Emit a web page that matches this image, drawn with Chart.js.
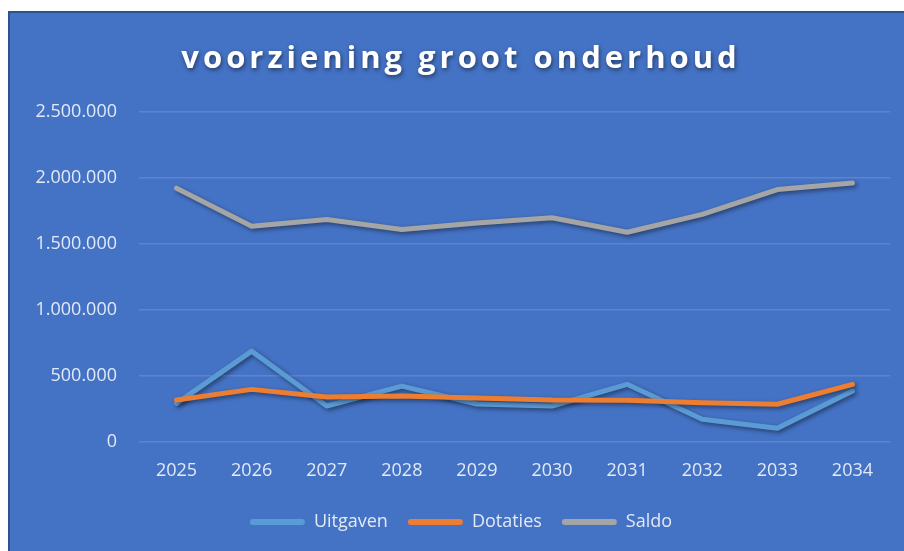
<!DOCTYPE html>
<html>
<head>
<meta charset="utf-8">
<script src="https://cdn.jsdelivr.net/npm/chart.js@4.4.1/dist/chart.umd.min.js"></script>
<style>
    html, body { margin: 0; padding: 0; background: #fff; }
    .kader {
        position: absolute;
        left: 8px;
        top: 11px;
        width: 894px;
        height: 538px;
        background: #4472c4;
        border-left: 2px solid #2f528f;
        border-top: 2px solid #2f528f;
    }
</style>
</head>
<body>
<div class="kader">
    <canvas id="grafiek" width="894" height="538"></canvas>
</div>
<script>
// jaren en bedragen
const jaren = ['2025', '2026', '2027', '2028', '2029', '2030', '2031', '2032', '2033', '2034'];
const uitgaven = [293000, 689000, 273000, 424000, 288000, 273000, 437000, 172000, 104000, 386000];
const dotaties = [318000, 399000, 341000, 348000, 333000, 318000, 316000, 298000, 286000, 437000];
const saldo = [1924000, 1636000, 1687000, 1611000, 1660000, 1700000, 1590000, 1725000, 1914000, 1964000];

const tekstKleur = 'rgba(235, 240, 250, 0.95)';

// bedrag met punten als duizendtal-scheiding
function formatBedrag(v) {
    return String(Math.round(v)).replace(/\B(?=(\d{3})+(?!\d))/g, '.');
}

// schaduw onder de lijnen
const lijnSchaduw = {
    id: 'lijnSchaduw',
    beforeDatasetsDraw(chart) {
        const ctx = chart.ctx;
        ctx.save();
        ctx.shadowColor = 'rgba(0, 0, 0, 0.45)';
        ctx.shadowBlur = 4;
        ctx.shadowOffsetX = 2;
        ctx.shadowOffsetY = 2;
    },
    afterDatasetsDraw(chart) {
        chart.ctx.restore();
    }
};

// titel met letterafstand en schaduw
const titelStijl = {
    id: 'titelStijl',
    afterInit(chart) {
        const t = chart.titleBlock;
        if (!t || t._aangepast) return;
        const orig = t.draw.bind(t);
        t.draw = function() {
            const ctx = chart.ctx;
            ctx.save();
            ctx.letterSpacing = '4px';
            ctx.shadowColor = 'rgba(0, 0, 0, 0.5)';
            ctx.shadowBlur = 4;
            ctx.shadowOffsetX = 1;
            ctx.shadowOffsetY = 2;
            orig();
            ctx.restore();
        };
        t._aangepast = true;
    }
};

function lijn(label, data, kleur, volgorde) {
    return {
        label: label,
        data: data,
        borderColor: kleur,
        backgroundColor: kleur,
        borderWidth: 5,
        borderCapStyle: 'round',
        borderJoinStyle: 'round',
        pointRadius: 0,
        pointHoverRadius: 0,
        tension: 0,
        fill: false,
        order: volgorde
    };
}

new Chart(document.getElementById('grafiek'), {
    type: 'line',
    data: {
        labels: jaren,
        datasets: [
            lijn('Uitgaven', uitgaven, '#5b9bd5', 3),
            lijn('Dotaties', dotaties, '#ed7d31', 2),
            lijn('Saldo', saldo, '#a5a5a5', 1)
        ]
    },
    plugins: [lijnSchaduw, titelStijl],
    options: {
        responsive: false,
        animation: false,
        layout: {
            padding: { left: 22, right: 14, top: 10, bottom: 10 }
        },
        scales: {
            x: {
                offset: true,
                grid: { display: false, drawTicks: false },
                border: { display: false },
                ticks: {
                    padding: 18,
                    color: tekstKleur,
                    font: { family: 'Open Sans', size: 18 }
                },
                afterFit(scale) { scale.height = 51; }
            },
            y: {
                min: 0,
                max: 2500000,
                grid: {
                    color: 'rgba(255, 255, 255, 0.14)',
                    lineWidth: 1.5,
                    drawTicks: false
                },
                border: { display: false },
                ticks: {
                    stepSize: 500000,
                    padding: 22,
                    color: tekstKleur,
                    font: { family: 'Open Sans', size: 18 },
                    callback: function(v) { return formatBedrag(v); }
                },
                afterFit(scale) { scale.width = 107; }
            }
        },
        plugins: {
            title: {
                display: true,
                text: 'voorziening groot onderhoud',
                color: '#ffffff',
                font: { family: 'Open Sans', size: 31, weight: 'bold' },
                padding: { top: 18, bottom: 34 }
            },
            legend: {
                position: 'bottom',
                labels: {
                    color: tekstKleur,
                    font: { family: 'Open Sans', size: 18 },
                    boxWidth: 55,
                    boxHeight: 6,
                    padding: 20,
                    useBorderRadius: true,
                    borderRadius: 3,
                    sort: (a, b) => a.datasetIndex - b.datasetIndex,
                    generateLabels(chart) {
                        const items = Chart.defaults.plugins.legend.labels.generateLabels(chart);
                        items.forEach(it => {
                            it.lineWidth = 0;
                            it.fillStyle = it.strokeStyle;
                        });
                        return items;
                    }
                }
            },
            tooltip: { enabled: false }
        }
    }
});
</script>
</body>
</html>
